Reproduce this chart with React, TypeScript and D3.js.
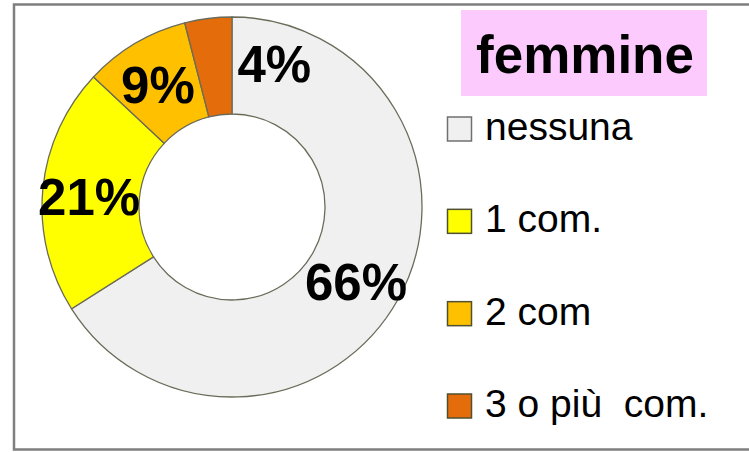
import React from "react";
import * as d3 from "d3";

const categories = ["nessuna", "1 com.", "2 com", "3 o più  com."];
const values = [66, 21, 9, 4];
const colors = ["#f0f0f0", "#ffff00", "#ffc000", "#e46c0a"];
const title = "femmine";

const W = 749;
const H = 452;

export default function App() {
  const cx = 232;
  const cy = 207;
  const outerR = 190;
  const innerR = 93;
  const pie = d3.pie<number>().sort(null).value((d) => d);
  const arcs = pie(values);
  const arcGen = d3.arc<d3.PieArcDatum<number>>().innerRadius(innerR).outerRadius(outerR);
  const labelArc = d3
    .arc<d3.PieArcDatum<number>>()
    .innerRadius((innerR + outerR) / 2)
    .outerRadius((innerR + outerR) / 2);
  const total = d3.sum(values);
  const labelShift = [
    [0, 7],
    [-2, 4],
    [-2, 0],
    [60, -2],
  ];

  const legendX = 447;
  const legendY = d3.scaleLinear().domain([0, 3]).range([140, 417]);

  return (
    <svg
      width={W}
      height={H}
      style={{ position: "absolute", left: 0, top: 0, display: "block", background: "#fff" }}
      fontFamily="'Liberation Sans', Arial, sans-serif"
    >
      <rect x={14} y={4.5} width={W} height={445} fill="#fff" stroke="#7f7f7f" strokeWidth={2.5} />
      <g transform={`translate(${cx},${cy})`}>
        {arcs.map((a, i) => (
          <path key={i} d={arcGen(a) || ""} fill={colors[i]} stroke="#6b6b5a" strokeWidth={1.3} />
        ))}
        {arcs.map((a, i) => {
          const [lx, ly] = labelArc.centroid(a);
          return (
            <text
              key={"l" + i}
              x={lx + labelShift[i][0]}
              y={ly + labelShift[i][1]}
              textAnchor="middle"
              dominantBaseline="central"
              fontWeight="bold"
              fontSize={51}
              fill="#000"
            >
              {Math.round((values[i] / total) * 100)}%
            </text>
          );
        })}
      </g>
      <rect x={461} y={10} width={246} height={86} fill="#fccafc" />
      <text x={585} y={73} textAnchor="middle" fontWeight="bold" fontSize={53} fill="#000">
        {title}
      </text>
      {categories.map((c, i) => (
        <g key={c} transform={`translate(${legendX},${legendY(i)})`}>
          <rect x={0.5} y={-23} width={24} height={24} fill={colors[i]} stroke={i === 0 ? "#707070" : "#505030"} strokeWidth={1.5} />
          <text x={38} y={0} fontSize={39} fill="#000" style={{ whiteSpace: "pre" }}>
            {c}
          </text>
        </g>
      ))}
    </svg>
  );
}
